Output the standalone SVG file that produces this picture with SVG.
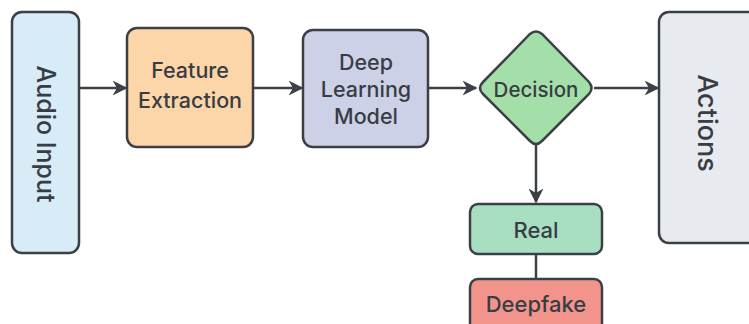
<svg xmlns="http://www.w3.org/2000/svg" width="749" height="324" viewBox="0 0 749 324">
<style>
.box{stroke:#3b4047;stroke-width:2.5}
.t{font-family:Inter,"Open Sans","Liberation Sans",sans-serif;font-weight:500;fill:#383d44;text-anchor:middle;dominant-baseline:central}
.c{stroke:#3b4047;stroke-width:2.5;fill:none}
</style>
<defs>
<marker id="ah" viewBox="0 0 10 10" refX="9" refY="5" markerWidth="6" markerHeight="6" orient="auto" markerUnits="strokeWidth">
<path d="M0,0 L10,5 L0,10 L3,5 z" fill="#3b4047"/>
</marker>
</defs>
<rect width="749" height="324" fill="#ffffff"/>
<g id="connectors">
<line class="c" x1="79" y1="88" x2="126" y2="88" marker-end="url(#ah)"/>
<line class="c" x1="253" y1="88" x2="302" y2="88" marker-end="url(#ah)"/>
<line class="c" x1="428" y1="88" x2="476" y2="88" marker-end="url(#ah)"/>
<line class="c" x1="594" y1="88" x2="658" y2="88" marker-end="url(#ah)"/>
<line class="c" x1="536" y1="145" x2="536" y2="202" marker-end="url(#ah)"/>
<line class="c" x1="536" y1="254" x2="536" y2="279"/>
</g>
<g id="audio-input">
<rect class="box" x="12" y="12" width="67" height="241" rx="10" fill="#d7ecf6"/>
<text class="t" x="46" y="134" font-size="25" transform="rotate(90 46 134)">Audio Input</text>
</g>
<g id="feature-extraction">
<rect class="box" x="127" y="28" width="126" height="119" rx="10" fill="#fcd5a9"/>
<text class="t" x="190" y="70" font-size="21.5">Feature</text>
<text class="t" x="190" y="100" font-size="21.5">Extraction</text>
</g>
<g id="deep-learning-model">
<rect class="box" x="303" y="30" width="125" height="117" rx="10" fill="#cdd1e8"/>
<text class="t" x="366" y="62" font-size="21.5">Deep</text>
<text class="t" x="366" y="89" font-size="21.5">Learning</text>
<text class="t" x="366" y="116" font-size="21.5">Model</text>
</g>
<g id="decision">
<path class="box" d="M530,34 Q536,29 542,34 L589,82 Q594,88 589,94 L542,141 Q536,147 530,141 L483,94 Q477,88 483,82 Z" fill="#a4dfa9"/>
<text class="t" x="536" y="89" font-size="20.5" fill="#2f4a35">Decision</text>
</g>
<g id="actions">
<rect class="box" x="659" y="12" width="110" height="231" rx="10" fill="#e7ebef"/>
<text class="t" x="707" y="123" font-size="27" transform="rotate(90 707 123)">Actions</text>
</g>
<g id="real">
<rect class="box" x="470" y="204" width="132" height="50" rx="8" fill="#a9dfc1"/>
<text class="t" x="536" y="230" font-size="22">Real</text>
</g>
<g id="deepfake">
<rect class="box" x="470" y="279" width="132" height="60" rx="8" fill="#f2948b"/>
<text class="t" x="536" y="304" font-size="22">Deepfake</text>
</g>
</svg>
